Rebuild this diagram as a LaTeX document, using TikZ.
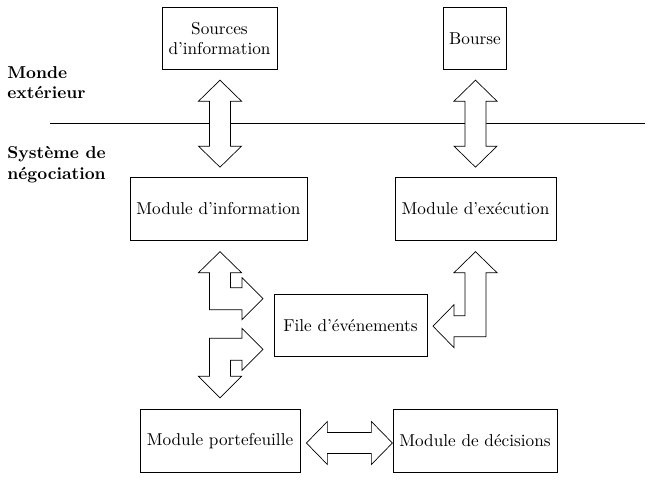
\documentclass[tikz,border=0pt]{standalone}
\usepackage{tikz}
\usetikzlibrary{calc}

\begin{document}
\begin{tikzpicture}[x=0.581pt, y=-0.581pt,
		box/.style={draw, rectangle, align=center, minimum height=36.4pt},
		blockarrow/.style={draw, fill=white, line join=miter},
		side/.style={font=\bfseries, align=left, anchor=north west, inner sep=0pt}]
				\useasboundingbox (0,0) rectangle (648,494);
				\node[side] (monde) at (7, 66) {Monde\\extérieur};
				\node[side] (systeme) at (7, 146) {Système de\\négociation};
				\draw (50, 123) -- (645, 123);
				\node[box, minimum width=66.8pt] (src) at (219.5, 38.5) {Sources\\d’information};
				\node[box, minimum width=34.9pt] (bourse) at (475, 38.5) {Bourse};
				\node[box, minimum width=102.8pt] (info) at (218.5, 209) {Module d’information};
				\node[box, minimum width=93.5pt] (exec) at (475.5, 209) {Module d’exécution};
				\node[box, minimum width=88.9pt] (file) at (350.5, 325.5) {File d’événements};
				\node[box, minimum width=93pt] (port) at (220, 441) {Module portefeuille};
				\node[box, minimum width=95.3pt] (dec) at (475, 441) {Module de décisions};
				\draw[blockarrow] ($(src.south)+(0.5,10)$) -- ++(21.5,21) -- ++(-11,0) -- ++(0,45) -- ++(11,0) -- ++(-21.5,21) -- ++(-21.5,-21) -- ++(11,0) -- ++(0,-45) -- ++(-11,0) -- cycle;
				\draw[blockarrow] ($(bourse.south)+(0.5,10)$) -- ++(21.5,21) -- ++(-11,0) -- ++(0,45) -- ++(11,0) -- ++(-21.5,21) -- ++(-21.5,-21) -- ++(11,0) -- ++(0,-45) -- ++(-11,0) -- cycle;
				\draw[blockarrow] ($(port.east)+(6,2)$) -- ++(21,-21.5) -- ++(0,11) -- ++(44,0) -- ++(0,-11) -- ++(21,21.5) -- ++(-21,21.5) -- ++(0,-11) -- ++(-44,0) -- ++(0,11) -- cycle;
				\draw[blockarrow] ($(info.south)+(1.5,11)$) -- ++(21.5,21) -- ++(-11,0) -- ++(0,15) -- ++(11.5,0) -- ++(0,-10) -- ++(21,21) -- ++(-21,21) -- ++(0,-10) -- ++(-32.5,0) -- ++(0,-37) -- ++(-11,0) -- cycle;
				\draw[blockarrow] ($(port.north)+(0,-11.5)$) -- ++(-21.5,-21.5) -- ++(11,0) -- ++(0,-38) -- ++(32.5,0) -- ++(0,-10) -- ++(21,21) -- ++(-21,21) -- ++(0,-10) -- ++(-11.5,0) -- ++(0,16) -- ++(11,0) -- cycle;
				\draw[blockarrow] ($(exec.south)+(0,11)$) -- ++(21.5,21) -- ++(-11,0) -- ++(0,64) -- ++(-32,0) -- ++(0,11) -- ++(-21,-21.5) -- ++(21,-21.5) -- ++(0,11) -- ++(11,0) -- ++(0,-43) -- ++(-11,0) -- cycle;
			\end{tikzpicture}
\end{document}
